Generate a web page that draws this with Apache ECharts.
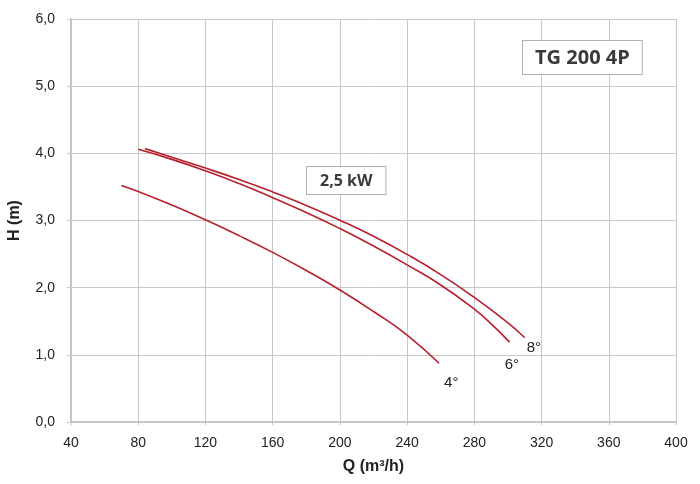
<!DOCTYPE html>
<html>
<head>
<meta charset="utf-8">
<script src="https://cdn.jsdelivr.net/npm/echarts@6/dist/echarts.min.js"></script>
<style>
html,body{margin:0;padding:0;background:#fff;}
#chart{width:700px;height:484px;}
</style>
</head>
<body>
<div id="chart"></div>
<script>
// Data (Q in m3/h, H in m)
const curve4 = [[70,3.52],[80,3.43],[100,3.23],[120,3.01],[140,2.775],[160,2.525],[180,2.255],[200,1.965],[220,1.645],[240,1.295],[259,0.875]];
const curve6 = [[80,4.06],[100,3.91],[120,3.74],[140,3.55],[160,3.34],[180,3.12],[200,2.88],[220,2.62],[240,2.34],[260,2.04],[280,1.68],[290,1.46],[301,1.19]];
const curve8 = [[84,4.07],[100,3.94],[120,3.78],[140,3.61],[160,3.425],[180,3.225],[200,3.005],[220,2.765],[240,2.495],[260,2.195],[280,1.855],[300,1.475],[310,1.255]];
const curveNames = ['4°','6°','8°'];
const xTicks = [40,80,120,160,200,240,280,320,360,400];
const yTicks = ['0,0','1,0','2,0','3,0','4,0','5,0','6,0'];
const modelLabel = 'TG 200 4P';
const powerLabel = '2,5 kW';

const chart = echarts.init(document.getElementById('chart'), null, {renderer:'canvas'});
const red = '#b8202f';
const gridColor = '#c8c8c8';
const narrow = '"Liberation Sans Narrow", "Liberation Sans", Arial, sans-serif';
const bold = '"Open Sans", "Noto Sans", sans-serif';

function mkSeries(name, data, offset){
  return {
    name: name, type: 'line', data: data, smooth: true,
    showSymbol: false, symbol: 'none',
    lineStyle: {color: red, width: 1.6}, itemStyle: {color: red},
    silent: true, animation: false,
    endLabel: {show: true, formatter: name, distance: 0, offset: offset,
      fontFamily: narrow, fontSize: 15, color: '#222', align: 'left', verticalAlign: 'middle'}
  };
}

chart.setOption({
  backgroundColor: '#fff',
  animation: false,
  grid: {left: 71, right: 24, top: 19, bottom: 62, containLabel: false, outerBoundsMode: 'none'},
  xAxis: {
    type: 'value', min: 40, max: 400, interval: 40,
    name: 'Q (m³/h)', nameLocation: 'middle', nameGap: 37,
    nameTextStyle: {fontFamily: narrow, fontWeight: 'bold', fontSize: 16, color: '#222'},
    axisLine: {show: true, lineStyle: {color: '#c4c4c4', width: 2}},
    axisTick: {show: true, length: 3, lineStyle: {color: gridColor}},
    axisLabel: {fontFamily: narrow, fontSize: 14, color: '#222', margin: 14,
      formatter: function(v){ return xTicks.indexOf(v) >= 0 ? String(v) : ''; }},
    splitLine: {show: true, lineStyle: {color: gridColor, width: 1}}
  },
  yAxis: {
    type: 'value', min: 0, max: 6, interval: 1,
    name: 'H (m)', nameLocation: 'middle', nameGap: 48, nameRotate: 90,
    nameTextStyle: {fontFamily: narrow, fontWeight: 'bold', fontSize: 16, color: '#222'},
    axisLine: {show: true, lineStyle: {color: '#c4c4c4', width: 2}},
    axisTick: {show: true, length: 4, lineStyle: {color: gridColor}},
    axisLabel: {fontFamily: narrow, fontSize: 14, color: '#222', margin: 16,
      formatter: function(v){ return yTicks[Math.round(v)]; }},
    splitLine: {show: true, lineStyle: {color: gridColor, width: 1}}
  },
  series: [
    mkSeries(curveNames[0], curve4, [5, 20]),
    mkSeries(curveNames[1], curve6, [-5, 23]),
    mkSeries(curveNames[2], curve8, [2, 10])
  ],
  graphic: [
    {type: 'text', left: 522, top: 40, z: 100,
      style: {text: modelLabel, font: 'bold 20px ' + bold, fill: '#3a3a3a',
        backgroundColor: '#fff', borderColor: '#b0b0b0', borderWidth: 1, padding: [7, 12, 6, 12]}},
    {type: 'text', left: 306, top: 166, z: 100,
      style: {text: powerLabel, font: 'bold 16px ' + bold, fill: '#3a3a3a',
        backgroundColor: '#fff', borderColor: '#b0b0b0', borderWidth: 1, padding: [6, 13, 5, 13]}}
  ]
});
</script>
</body>
</html>
